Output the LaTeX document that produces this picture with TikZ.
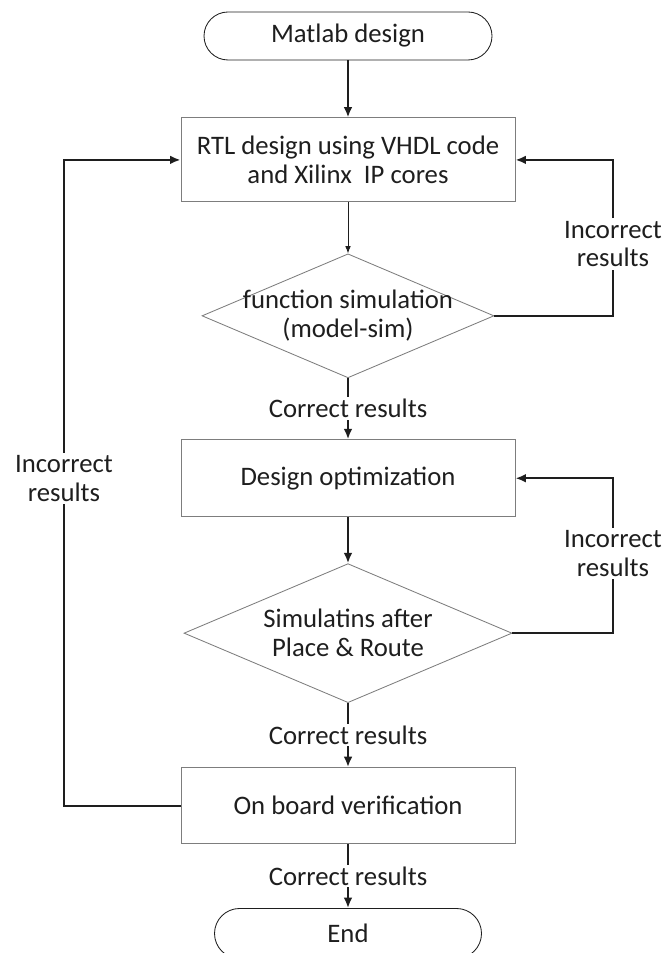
\documentclass[tikz,border=0pt]{standalone}
\usepackage{fontspec}
\setmainfont{Carlito}
\usetikzlibrary{
  arrows.meta,
  positioning,
  shapes.geometric
}
\definecolor{InkGray}{RGB}{30,30,30}
\definecolor{FrameGray}{RGB}{125,125,125}
\tikzset{
  terminal/.style={draw=InkGray,rounded corners=6mm,minimum height=12mm,align=center,line width=0.6pt,text=InkGray},
  procnode/.style={draw=FrameGray,minimum width=83.5mm,align=center,line width=0.7pt,text=InkGray},
  decision/.style={diamond,aspect=2.35,draw=FrameGray,align=center,line width=0.6pt,inner sep=0pt,text=InkGray},
  result/.style={fill=white,inner sep=0.5mm,text=InkGray},
  looplabel/.style={align=center,inner xsep=0pt,inner ysep=0.6mm,text=InkGray},
  flow/.style={-{Latex[length=2.6mm,width=2.2mm]},line width=1.5pt,draw=InkGray},
  thinflow/.style={-{Latex[length=1.8mm,width=1.4mm]},line width=0.6pt,draw=InkGray},
  loopline/.style={line width=1.5pt,draw=InkGray}
}
\begin{document}
\begin{tikzpicture}[font=\fontsize{19}{20.5}\selectfont]
\useasboundingbox (0,0) rectangle (166mm,-238.25mm);
\node[terminal, minimum width=72mm] (mat) at (87mm,-9mm) {Matlab design};
\node[procnode, minimum height=21mm, below=14.25mm of mat] (rtl) {RTL design using VHDL code\\and Xilinx\ \ IP cores};
\node[decision, minimum width=73mm, minimum height=31mm, inner ysep=-4.5mm, below=12.75mm of rtl] (fsim) {function simulation\\(model-sim)};
\node[procnode, minimum height=19.25mm, below=15.25mm of fsim] (opt) {Design optimization};
\node[decision, minimum width=82mm, minimum height=34.75mm, inner ysep=-1.5mm, below=11.5mm of opt] (par) {Simulatins after\\Place \& Route};
\node[procnode, minimum height=19mm, below=16mm of par] (obv) {On board verification};
\node[terminal, minimum width=66.75mm, minimum height=12.5mm, rounded corners=6.25mm, below=16mm of obv] (fin) {End};
\draw[flow] (mat) -- (rtl);
\draw[thinflow] (rtl) -- (fsim);
\draw[flow] (fsim) -- node[result] (ok1) {Correct results} (opt);
\draw[flow] (opt) -- (par);
\draw[flow] (par) -- node[result] (ok2) {Correct results} (obv);
\draw[flow] (obv) -- node[result] (ok3) {Correct results} (fin);
% feedback loops
\node[looplabel] (bad1) at (153.25mm,-61mm) {Incorrect\\results};
\node[looplabel] (bad2) at (153.25mm,-138.4mm) {Incorrect\\results};
\node[looplabel] (bad3) at (16mm,-119.6mm) {Incorrect\\results};
\draw[loopline] (fsim.east) -| (bad1.south);
\draw[flow] (bad1.north) |- (rtl.east);
\draw[loopline] (par.east) -| (bad2.south);
\draw[flow] (bad2.north) |- (opt.east);
\draw[loopline] (obv.west) -| (bad3.south);
\draw[flow] (bad3.north) |- (rtl.west);
\end{tikzpicture}
\end{document}
